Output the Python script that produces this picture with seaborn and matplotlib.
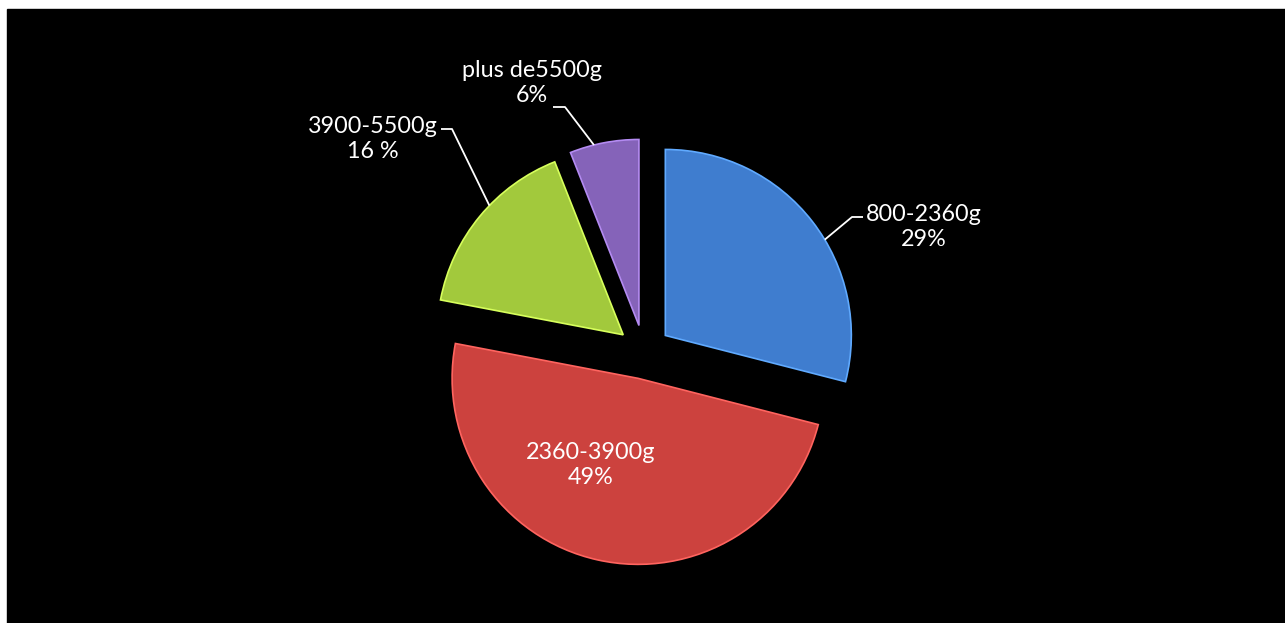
import numpy as np
import matplotlib
matplotlib.use("Agg")
import matplotlib.pyplot as plt
import seaborn as sns

# Birth-weight classes and their shares (%)
categories = ["800-2360g", "2360-3900g", "3900-5500g", "plus de5500g"]
shares = [29, 49, 16, 6]
share_labels = ["29%", "49%", "16 %", "6%"]
colors = ["#3f7dcf", "#cc423e", "#a2c93c", "#8563b9"]

sns.set_theme(style="dark")
plt.rcParams["font.family"] = ["Lato", "DejaVu Sans"]

W, H = 1285, 623
fig = plt.figure(figsize=(W / 100, H / 100), dpi=100, facecolor="white")
# black plotting panel, one data unit = one pixel (y measured upward)
x0, y0 = 7, 9
ax = fig.add_axes([x0 / W, 0, (W - x0) / W, (H - y0) / H])
fig.patches.append(plt.Rectangle((x0 / W, 0), (W - x0) / W, (H - y0) / H,
                                 transform=fig.transFigure, color="black", zorder=-5))


def py(y):
    return H - y


cx, cy, R = 644, py(352), 186
gap = 27  # radial offset of every slice, in pixels
wedges, _ = ax.pie(
    shares,
    colors=colors,
    startangle=90,
    counterclock=False,
    explode=[gap] * len(shares),
    radius=R,
    center=(cx, cy),
    wedgeprops=dict(linewidth=1.2, edgecolor="none"),
    frame=True,
)
# soft lighter rim on each slice
for w, c in zip(wedges, colors):
    rgb = np.array(matplotlib.colors.to_rgb(c))
    w.set_edgecolor(tuple(np.clip(rgb * 1.2 + 0.08, 0, 1)))
ax.set_xlim(x0, W)
ax.set_ylim(0, H - y0)
ax.set_aspect("equal")
ax.set_axis_off()

fs = 16.8
txt = dict(color="white", fontsize=fs, ha="center", va="center", linespacing=1.28)


def rim(i, ang):
    w = wedges[i]
    a = np.deg2rad(ang)
    return w.center[0] + w.r * np.cos(a), w.center[1] + w.r * np.sin(a)


# labels with leader lines
leaders = [
    (0, 31, (852, 217), (863, 217), (924, 227)),
    (2, 136, (452, 129), (441, 129), (373, 139)),
    (3, 104, (565, 107), (553, 107), (532, 83)),
]
for i, ang, elbow, end, tpos in leaders:
    ax_, ay_ = rim(i, ang)
    ax.plot([ax_, elbow[0], end[0]], [ay_, py(elbow[1]), py(end[1])],
            color="white", lw=1.3, solid_capstyle="butt")
    ax.text(tpos[0], py(tpos[1]), f"{categories[i]}\n{share_labels[i]}", **txt)

ax.text(591, py(465), f"{categories[1]}\n{share_labels[1]}", **txt)

fig.savefig("out.png", dpi=100, facecolor="white")
